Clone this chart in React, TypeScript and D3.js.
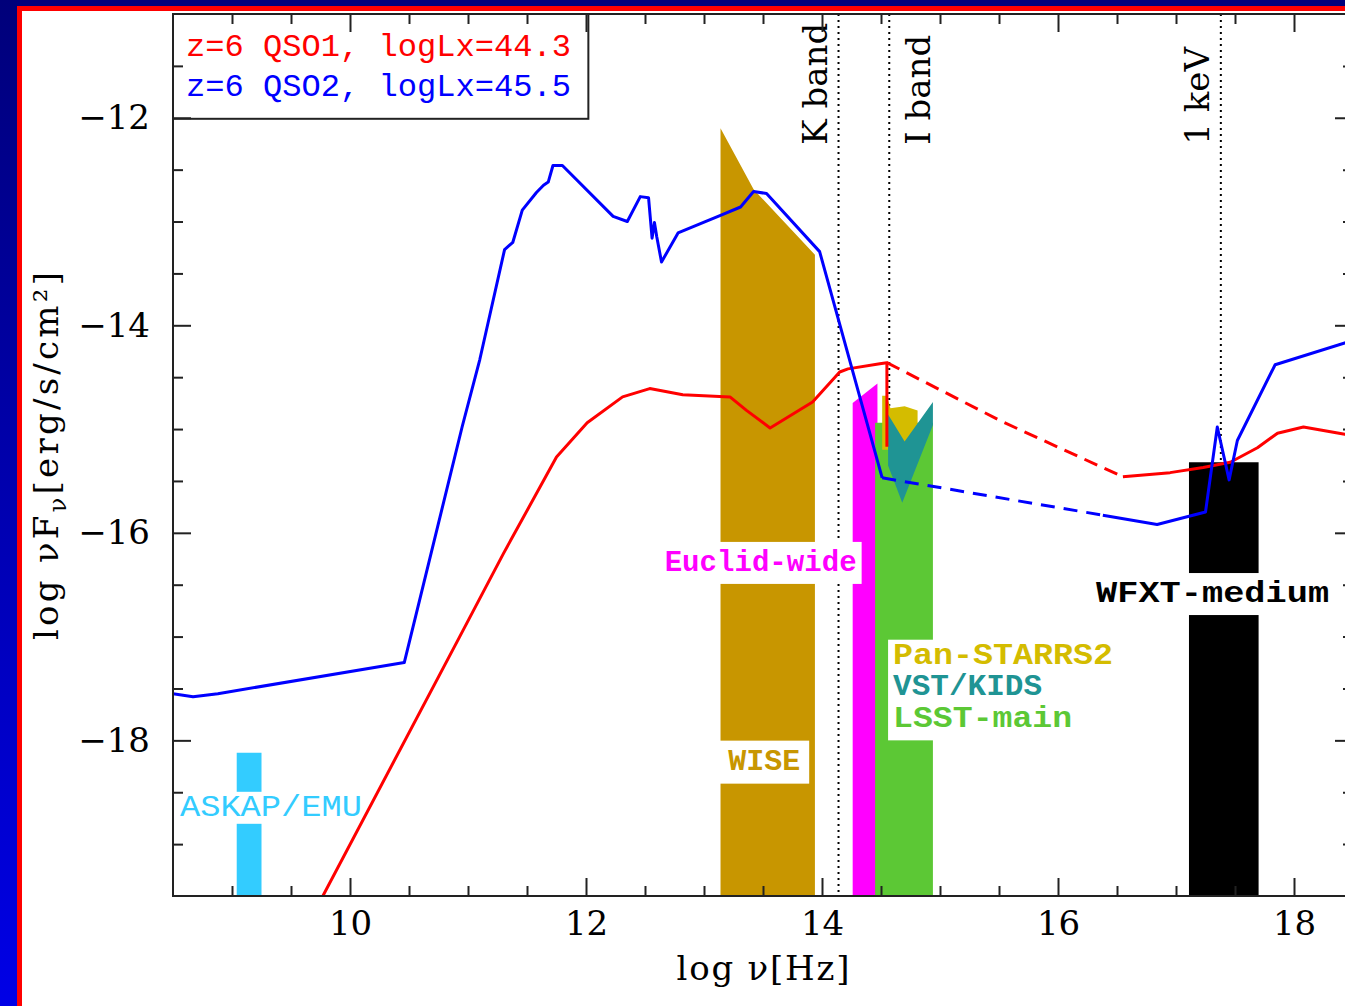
import React, { useEffect, useRef } from 'react';
import * as d3 from 'd3';

type Pt = [number, number];

// axis extents (log nu [Hz], log nuFnu [erg/s/cm2])
const xDomain: Pt = [8.5, 18.5];
const yDomain: Pt = [-19.5, -11];
const xMajor = [10, 12, 14, 16, 18];
const yMajor = [-18, -16, -14, -12];

// z=6 QSO1, logLx=44.3 (red)
const qso1Solid: Pt[] = [
  [9.77, -19.5], [10.93, -17.0], [11.30, -16.2], [11.75, -15.27], [12.01, -14.94],
  [12.31, -14.69], [12.54, -14.61], [12.82, -14.67], [13.22, -14.69], [13.36, -14.82],
  [13.56, -14.99], [13.92, -14.74], [14.15, -14.45], [14.22, -14.42], [14.49, -14.37],
  [14.55, -14.36], [14.55, -15.17],
];
const qso1Dashed: Pt[] = [[14.55, -14.36], [15.53, -14.93], [16.55, -15.46]];
const qso1Xray: Pt[] = [
  [16.55, -15.46], [16.95, -15.42], [17.23, -15.37], [17.46, -15.32], [17.69, -15.18],
  [17.86, -15.04], [18.08, -14.98], [18.43, -15.05], [18.5, -15.07],
];

// z=6 QSO2, logLx=45.5 (blue)
const qso2Solid: Pt[] = [
  [8.5, -17.55], [8.67, -17.58], [8.88, -17.55], [10.46, -17.25], [10.95, -14.98],
  [11.10, -14.33], [11.31, -13.27], [11.38, -13.20], [11.46, -12.89], [11.58, -12.72],
  [11.64, -12.65], [11.68, -12.62], [11.72, -12.46], [11.80, -12.46], [12.23, -12.95],
  [12.35, -13.00], [12.46, -12.76], [12.53, -12.77], [12.56, -13.16], [12.58, -13.01],
  [12.60, -13.15], [12.64, -13.39], [12.78, -13.11], [13.14, -12.94], [13.31, -12.86],
  [13.42, -12.71], [13.53, -12.73], [13.98, -13.29], [14.51, -15.47],
];
const qso2Dashed: Pt[] = [[14.51, -15.47], [16.38, -15.83]];
const qso2Xray: Pt[] = [
  [16.38, -15.83], [16.84, -15.92], [17.25, -15.80], [17.35, -14.98], [17.45, -15.49],
  [17.52, -15.11], [17.84, -14.38], [18.43, -14.17], [18.5, -14.15],
];

// survey flux limits (filled down to the bottom of the plot)
const askapLimit: Pt[] = [[9.04, -18.12], [9.25, -18.12]];
const wiseLimit: Pt[] = [[13.14, -12.10], [13.42, -12.69], [13.94, -13.32]];
const euclidLimit: Pt[] = [[14.26, -14.75], [14.47, -14.56]];
const lsstLimit: Pt[] = [[14.45, -14.94], [14.94, -14.94]];
const wfxtLimit: Pt[] = [[17.11, -15.32], [17.70, -15.32]];
// closed shapes
const panstarrsShape: Pt[] = [
  [14.51, -14.68], [14.55, -14.68], [14.58, -14.80], [14.70, -14.78], [14.81, -14.82],
  [14.81, -15.11], [14.56, -15.20], [14.51, -15.20],
];
const kidsShape: Pt[] = [
  [14.56, -14.86], [14.70, -15.12], [14.94, -14.74], [14.94, -14.96], [14.68, -15.71],
  [14.56, -15.35],
];

const refLines = [
  { label: 'K band', nu: 14.14, side: -1 },
  { label: 'I band', nu: 14.57, side: 1 },
  { label: '1 keV', nu: 17.38, side: -1 },
];

const legendLabels = ['z=6 QSO1, logLx=44.3', 'z=6 QSO2, logLx=45.5'];

const W = 1345;
const H = 1006;
const SERIF = "'DejaVu Serif', serif";
const MONO = "'Liberation Mono', monospace";

const App: React.FC = () => {
  const svgRef = useRef<SVGSVGElement>(null);

  useEffect(() => {
    if (!svgRef.current) return;
    const svg = d3.select(svgRef.current);
    svg.selectAll('*').remove();

    const x = d3.scaleLinear().domain(xDomain).range([173, 1353]);
    const y = d3.scaleLinear().domain(yDomain).range([896, 14]);
    const [x0, x1] = x.range();
    const [y0, y1] = y.range();

    // slide background
    const defs = svg.append('defs');
    const grad = defs.append('linearGradient').attr('id', 'bg').attr('x1', 0).attr('y1', 0).attr('x2', 0).attr('y2', 1);
    grad.append('stop').attr('offset', '0%').attr('stop-color', '#00007a');
    grad.append('stop').attr('offset', '100%').attr('stop-color', '#0000e6');
    defs.append('clipPath').attr('id', 'plot')
      .append('rect').attr('x', x0).attr('y', y1).attr('width', x1 - x0).attr('height', y0 - y1);

    svg.append('rect').attr('width', W).attr('height', H).attr('fill', 'url(#bg)');
    svg.append('rect').attr('x', 17).attr('y', 6).attr('width', W).attr('height', H).attr('fill', '#ff0000');
    svg.append('rect').attr('x', 22).attr('y', 11).attr('width', W).attr('height', H).attr('fill', '#ffffff');

    const g = svg.append('g').attr('clip-path', 'url(#plot)');

    const toFill = (limit: Pt[]): Pt[] => [
      ...limit,
      [limit[limit.length - 1][0], yDomain[0]],
      [limit[0][0], yDomain[0]],
    ];
    const poly = (pts: Pt[]) => pts.map(p => `${x(p[0])},${y(p[1])}`).join(' ');

    // reference lines
    refLines.forEach(r => {
      g.append('line')
        .attr('x1', x(r.nu)).attr('x2', x(r.nu)).attr('y1', y1).attr('y2', y0)
        .attr('stroke', '#000').attr('stroke-width', 2).attr('stroke-dasharray', '2,4');
    });

    // survey areas
    g.append('polygon').attr('points', poly(toFill(askapLimit))).attr('fill', '#33ccff');
    g.append('polygon').attr('points', poly(toFill(wiseLimit))).attr('fill', '#c89600');
    g.append('polygon').attr('points', poly(toFill(wfxtLimit))).attr('fill', '#000000');
    g.append('polygon').attr('points', poly(toFill(euclidLimit))).attr('fill', '#ff00ff');
    g.append('polygon').attr('points', poly(toFill(lsstLimit))).attr('fill', '#5cc835');
    g.append('polygon').attr('points', poly(panstarrsShape)).attr('fill', '#d4bc00');
    g.append('polygon').attr('points', poly(kidsShape)).attr('fill', '#1f9494');

    // labels on white patches
    const boxLabel = (cx: number, cy: number, bw: number, bh: number, lines: { t: string; c: string; len: number }[], weight = 'bold') => {
      const px = x(cx);
      const py = y(cy);
      g.append('rect').attr('x', px - bw / 2).attr('y', py - bh / 2).attr('width', bw).attr('height', bh).attr('fill', '#fff');
      const lh = 31;
      lines.forEach((l, i) => {
        g.append('text')
          .attr('x', px).attr('y', py + (i - (lines.length - 1) / 2) * lh)
          .attr('text-anchor', 'middle').attr('dominant-baseline', 'central')
          .attr('font-family', MONO).attr('font-weight', weight).attr('font-size', 30)
          .attr('textLength', l.len).attr('lengthAdjust', 'spacingAndGlyphs')
          .attr('fill', l.c).text(l.t);
      });
    };
    boxLabel(9.33, -18.65, 186, 32, [{ t: 'ASKAP/EMU', c: '#33ccff', len: 182 }], 'normal');
    boxLabel(13.48, -16.29, 202, 42, [{ t: 'Euclid-wide', c: '#ff00ff', len: 192 }]);
    boxLabel(13.51, -18.21, 90, 43, [{ t: 'WISE', c: '#c89600', len: 72 }]);
    boxLabel(17.31, -16.59, 240, 42, [{ t: 'WFXT-medium', c: '#000000', len: 233 }]);
    // Pan-STARRS / KIDS / LSST block (left aligned)
    {
      const px = x(14.56);
      g.append('rect').attr('x', px).attr('y', y(-17.03)).attr('width', 190).attr('height', y(-18.0) - y(-17.03)).attr('fill', '#fff');
      const items = [
        { t: 'Pan-STARRS2', c: '#d4bc00', len: 220, v: -17.19 },
        { t: 'VST/KIDS', c: '#1f9494', len: 149, v: -17.49 },
        { t: 'LSST-main', c: '#5cc835', len: 179, v: -17.79 },
      ];
      items.forEach(it => {
        g.append('text')
          .attr('x', px + 5).attr('y', y(it.v))
          .attr('dominant-baseline', 'central')
          .attr('font-family', MONO).attr('font-weight', 'bold').attr('font-size', 30)
          .attr('textLength', it.len).attr('lengthAdjust', 'spacingAndGlyphs')
          .attr('fill', it.c).text(it.t);
      });
    }

    // SED curves
    const line = d3.line<Pt>().x(d => x(d[0])).y(d => y(d[1]));
    const curve = (pts: Pt[], color: string, dash?: string) => {
      const p = g.append('path').attr('d', line(pts)).attr('fill', 'none')
        .attr('stroke', color).attr('stroke-width', 3).attr('stroke-linejoin', 'round');
      if (dash) p.attr('stroke-dasharray', dash);
    };
    curve(qso1Solid, '#ff0000');
    curve(qso1Dashed, '#ff0000', '14,8');
    curve(qso1Xray, '#ff0000');
    curve(qso2Solid, '#0000ff');
    curve(qso2Dashed, '#0000ff', '14,9');
    curve(qso2Xray, '#0000ff');

    // reference line labels
    refLines.forEach(r => {
      const bx = x(r.nu) + (r.side < 0 ? -12 : 41);
      svg.append('text')
        .attr('transform', `translate(${bx},${y(-12.26)}) rotate(-90)`)
        .attr('font-family', SERIF).attr('font-size', 34).attr('fill', '#000')
        .text(r.label);
    });

    // legend
    svg.append('rect')
      .attr('x', x(8.5)).attr('y', y(-11)).attr('width', x(12.02) - x(8.5)).attr('height', y(-12.01) - y(-11))
      .attr('fill', '#fff').attr('stroke', '#222').attr('stroke-width', 2);
    legendLabels.forEach((t, i) => {
      svg.append('text')
        .attr('x', x(8.61)).attr('y', 56 + i * 40)
        .attr('font-family', MONO).attr('font-size', 32)
        .attr('textLength', 385).attr('lengthAdjust', 'spacingAndGlyphs')
        .attr('fill', i === 0 ? '#ff0000' : '#0000ff').text(t);
    });

    // axes with inward ticks on all four sides
    const xMinor = d3.range(xDomain[0] + 0.5, xDomain[1], 0.5).filter(v => !xMajor.includes(v));
    const yMinor = d3.range(yDomain[0] + 0.5, yDomain[1], 0.5).filter(v => !yMajor.includes(v));
    const axes = svg.append('g').attr('color', '#222');
    const style = (sel: d3.Selection<SVGGElement, unknown, null, undefined>) => {
      sel.select('.domain').remove();
      sel.selectAll('line').attr('stroke-width', 2);
      sel.attr('font-family', SERIF).attr('font-size', 34);
      sel.selectAll('text').attr('fill', '#000');
    };
    const fmt = d3.format('d');
    axes.append('g').attr('transform', `translate(0,${y0})`)
      .call(d3.axisBottom(x).tickValues(xMajor).tickSize(-18).tickPadding(15).tickFormat(d => fmt(d as number))).call(style);
    axes.append('g').attr('transform', `translate(0,${y0})`)
      .call(d3.axisBottom(x).tickValues(xMinor).tickSize(-10).tickFormat(() => '')).call(style);
    axes.append('g').attr('transform', `translate(0,${y1})`)
      .call(d3.axisTop(x).tickValues(xMajor).tickSize(-18).tickFormat(() => '')).call(style);
    axes.append('g').attr('transform', `translate(0,${y1})`)
      .call(d3.axisTop(x).tickValues(xMinor).tickSize(-10).tickFormat(() => '')).call(style);
    axes.append('g').attr('transform', `translate(${x0},0)`)
      .call(d3.axisLeft(y).tickValues(yMajor).tickSize(-18).tickPadding(23).tickFormat(d => fmt(d as number))).call(style);
    axes.append('g').attr('transform', `translate(${x0},0)`)
      .call(d3.axisLeft(y).tickValues(yMinor).tickSize(-10).tickFormat(() => '')).call(style);
    axes.append('g').attr('transform', `translate(${x1},0)`)
      .call(d3.axisRight(y).tickValues(yMajor).tickSize(-18).tickFormat(() => '')).call(style);
    axes.append('g').attr('transform', `translate(${x1},0)`)
      .call(d3.axisRight(y).tickValues(yMinor).tickSize(-10).tickFormat(() => '')).call(style);
    axes.append('rect').attr('x', x0).attr('y', y1).attr('width', x1 - x0).attr('height', y0 - y1)
      .attr('fill', 'none').attr('stroke', '#222').attr('stroke-width', 2);

    // axis titles
    svg.append('text')
      .attr('x', 763).attr('y', 980).attr('text-anchor', 'middle')
      .attr('font-family', SERIF).attr('font-size', 34).attr('textLength', 173)
      .text('log \u03bd[Hz]');
    const yt = svg.append('text')
      .attr('transform', 'translate(58,456) rotate(-90)').attr('text-anchor', 'middle')
      .attr('font-family', SERIF).attr('font-size', 34).attr('textLength', 368);
    yt.append('tspan').text('log \u03bdF');
    yt.append('tspan').attr('font-size', 24).attr('dy', 8).text('\u03bd');
    yt.append('tspan').attr('dy', -8).text('[erg/s/cm\u00b2]');
  }, []);

  return (
    <svg
      ref={svgRef}
      width={W}
      height={H}
      viewBox={`0 0 ${W} ${H}`}
      style={{ position: 'absolute', left: 0, top: 0, display: 'block' }}
    />
  );
};

export default App;
